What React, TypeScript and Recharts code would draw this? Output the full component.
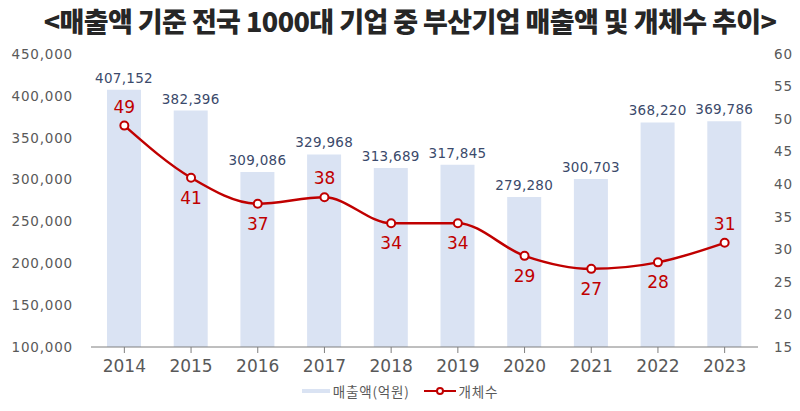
import React from 'react';
import { ComposedChart, Bar, Line, XAxis, YAxis, LabelList, Legend } from 'recharts';

const years = ['2014', '2015', '2016', '2017', '2018', '2019', '2020', '2021', '2022', '2023'];
const sales = [407152, 382396, 309086, 329968, 313689, 317845, 279280, 300703, 368220, 369786];
const counts = [49, 41, 37, 38, 34, 34, 29, 27, 28, 31];
// 개체수 라벨 위치 (위/아래)
const countLabelAbove = [true, false, false, true, false, false, false, false, false, true];

const leftTicks = [100000, 150000, 200000, 250000, 300000, 350000, 400000, 450000];
const rightTicks = [15, 20, 25, 30, 35, 40, 45, 50, 55, 60];

const data = years.map((year, i) => ({ year, sales: sales[i], count: counts[i] }));

const FONT = '"Noto Sans CJK KR", "Noto Sans", sans-serif';
const NUM_FONT = '"DejaVu Sans", sans-serif';
const BAR_COLOR = '#dae3f3';
const LINE_COLOR = '#c00000';

const CountLabel = (props: any) => {
  const { x, y, value, index } = props;
  const above = countLabelAbove[index];
  return (
    <text
      x={x}
      y={above ? y - 13 : y + 26}
      textAnchor="middle"
      fill={LINE_COLOR}
      fontSize={17}
      fontFamily={NUM_FONT}
    >
      {value}
    </text>
  );
};

const LegendContent = () => (
  <div style={{ display: 'flex', justifyContent: 'center', alignItems: 'center', gap: 14, fontSize: 13.5, letterSpacing: 0.8, color: '#595959', fontFamily: FONT }}>
    <span style={{ display: 'flex', alignItems: 'center', gap: 3 }}>
      <svg width={28} height={10}>
        <line x1={0} y1={5} x2={28} y2={5} stroke={BAR_COLOR} strokeWidth={4} />
      </svg>
      매출액(억원)
    </span>
    <span style={{ display: 'flex', alignItems: 'center', gap: 3 }}>
      <svg width={32} height={10}>
        <line x1={0} y1={5} x2={32} y2={5} stroke={LINE_COLOR} strokeWidth={2} />
        <circle cx={16} cy={5} r={3} fill="#fff" stroke={LINE_COLOR} strokeWidth={2} />
      </svg>
      개체수
    </span>
  </div>
);

export default function App() {
  return (
    <div style={{ position: 'absolute', left: 0, top: 0, width: 800, height: 411, background: '#fff' }}>
      <div
        style={{
          position: 'absolute',
          left: 0,
          top: 4,
          width: 820,
          textAlign: 'center',
          fontFamily: FONT,
          fontWeight: 900,
          fontSize: 27,
          letterSpacing: -0.6,
          color: '#262626',
          lineHeight: '34px',
        }}
      >
        &lt;매출액 기준 전국 1000대 기업 중 부산기업 매출액 및 개체수 추이&gt;
      </div>
      <ComposedChart width={800} height={411} data={data} margin={{ top: 54, right: 0, bottom: 6, left: 0 }}>
        <XAxis
          dataKey="year"
          yAxisId="left"
          axisLine={{ stroke: '#7f7f7f' }}
          tickLine={{ stroke: '#7f7f7f' }}
          tick={{ fill: '#595959', fontSize: 17, fontFamily: NUM_FONT }}
          tickMargin={7}
          height={34}
          interval={0}
        />
        <YAxis
          yAxisId="left"
          domain={[100000, 450000]}
          ticks={leftTicks}
          tickFormatter={(v: number) => v.toLocaleString('en-US')}
          axisLine={false}
          tickLine={false}
          tick={{ fill: '#595959', fontSize: 13.5, letterSpacing: 0.8, fontFamily: NUM_FONT }}
          width={91}
          tickMargin={12}
          allowDataOverflow
        />
        <YAxis
          yAxisId="right"
          orientation="right"
          domain={[15, 60]}
          ticks={rightTicks}
          axisLine={false}
          tickLine={false}
          tick={{ fill: '#595959', fontSize: 13.5, letterSpacing: 1, fontFamily: NUM_FONT }}
          width={42}
          tickMargin={10}
        />
        <Legend verticalAlign="bottom" height={24} content={<LegendContent />} />
        <Bar yAxisId="left" dataKey="sales" fill={BAR_COLOR} barSize={34} isAnimationActive={false}>
          <LabelList
            dataKey="sales"
            position="top"
            offset={7}
            formatter={(v: number) => v.toLocaleString('en-US')}
            fill="#3b4a6b"
            fontSize={13.5}
            letterSpacing={0.3}
            fontFamily={NUM_FONT}
          />
        </Bar>
        <Line
          yAxisId="right"
          type="monotone"
          dataKey="count"
          stroke={LINE_COLOR}
          strokeWidth={2.5}
          dot={{ r: 4, fill: '#fff', stroke: LINE_COLOR, strokeWidth: 2 }}
          activeDot={false}
          isAnimationActive={false}
        >
          <LabelList dataKey="count" content={<CountLabel />} />
        </Line>
      </ComposedChart>
    </div>
  );
}
